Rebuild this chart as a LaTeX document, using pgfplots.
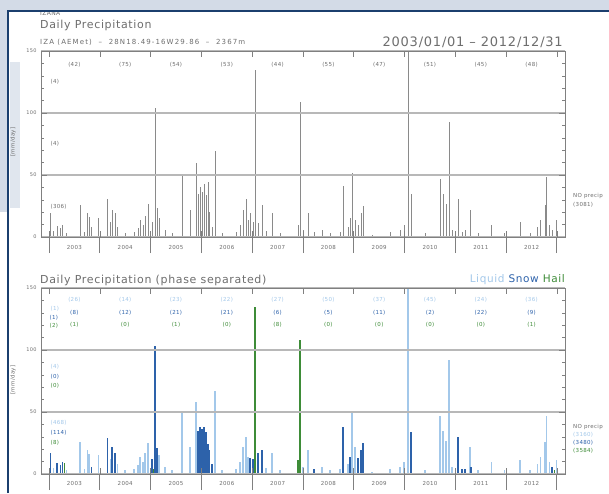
\documentclass[border=0pt]{standalone}
\usepackage{fontspec}
\setmainfont{DejaVu Sans}[LetterSpace=6]
\usepackage{pgfplots}
\pgfplotsset{compat=1.18}

\definecolor{bgblue}{HTML}{D3DBE7}
\definecolor{frameblue}{HTML}{1B3F6E}
\definecolor{textgray}{HTML}{6E6E6E}
\definecolor{axisgray}{HTML}{808080}
\definecolor{gridgray}{HTML}{B8B8B8}
\definecolor{bargray}{HTML}{8A8A8A}
\definecolor{liquid}{HTML}{A3C8EA}
\definecolor{snow}{HTML}{2D62AA}
\definecolor{hail}{HTML}{3E8C38}

\newcommand\tickfont{\fontsize{5}{6}\selectfont}
\newcommand\smallfont{\fontsize{5.5}{6.5}\selectfont}

\pgfplotsset{
  panel/.style={scale only axis, width=524pt, height=186pt,
    xmin=2002.84, xmax=2013.16, ymin=0, ymax=150, anchor=south west},
  % year separators hanging below the x axis
  sepaxis/.style={panel, xtick={2003,...,2013}, xticklabels={}, xtick pos=left,
    tick align=outside, major tick length=16pt, ytick=\empty,
    axis line style={axisgray, line width=0.8pt},
    tick style={axisgray, line width=0.8pt}},
  % frame with inner ticks, grid and y labels
  frameaxis/.style={panel, tick align=inside,
    xtick={2003,...,2013}, xticklabels={}, minor x tick num=1, xtick pos=both,
    ytick={0,50,100,150}, minor y tick num=4, ytick pos=both, yticklabel pos=left,
    major tick length=6pt, minor tick length=3.5pt,
    ymajorgrids, major grid style={gridgray, line width=1.6pt},
    axis line style={axisgray, line width=0.8pt},
    tick style={axisgray, line width=0.6pt},
    yticklabel style={font=\tickfont, text=textgray, xshift=-1pt},
    /pgf/number format/assume math mode=true},
  comb/.style={ycomb, no marks, line width=0.8pt},
}

\begin{document}
\begin{tikzpicture}[x=1pt, y=1pt]
\useasboundingbox (0,0) rectangle (609,-493);
\fill[white] (0,0) rectangle (609,-493);
\fill[bgblue!70!white] (9.5,-62) rectangle (20,-208);

% ---------- headings ----------
\node[anchor=west, inner sep=0, text=textgray, font=\fontsize{6}{7}\selectfont] at (40,-13) {IZANA};
\node[anchor=west, inner sep=0, text=textgray, font=\fontsize{11}{13}\selectfont] at (40,-25) {Daily Precipitation};
\node[anchor=west, inner sep=0, text=textgray, font=\fontsize{7}{8}\selectfont\addfontfeatures{LetterSpace=16}] at (40,-42) {IZA (AEMet) \ -- \ 28N18.49-16W29.86 \ -- \ 2367m};
\node[anchor=east, inner sep=0, text=textgray, font=\fontsize{13}{15}\selectfont] at (563,-42) {2003/01/01 -- 2012/12/31};

% ---------- daily totals ----------
\begin{axis}[sepaxis, at={(41pt,-237pt)}]
\addplot[comb, draw=bargray] coordinates {
(2003.020,19)(2003.079,5)(2003.157,9)(2003.217,7)(2003.256,10)(2003.335,3)
(2003.610,26)(2003.689,4)(2003.748,19)(2003.787,16)(2003.827,8)(2003.965,15)
(2004.142,31)(2004.201,12)(2004.240,22)(2004.299,19)(2004.339,8)(2004.496,3)
(2004.673,4)(2004.752,7)(2004.791,14)(2004.850,10)(2004.890,17)(2004.949,27)
(2005.028,12)(2005.087,104)(2005.126,23)(2005.165,15)(2005.283,6)(2005.421,3)
(2005.618,51)(2005.776,22)(2005.894,60)(2005.933,35)(2005.972,40)(2006.012,36)
(2006.051,43)(2006.091,34)(2006.130,44)(2006.150,20)(2006.209,8)(2006.268,69)
(2006.406,3)(2006.681,4)(2006.760,10)(2006.819,22)(2006.878,31)(2006.917,14)
(2006.957,19)(2007.016,12)(2007.055,135)(2007.114,11)(2007.193,26)(2007.272,5)
(2007.390,19)(2007.547,3)(2007.902,10)(2007.941,109)(2008.000,6)(2008.098,19)
(2008.217,4)(2008.374,6)(2008.531,3)(2008.728,4)(2008.787,41)(2008.886,8)
(2008.925,15)(2008.965,52)(2009.024,14)(2009.083,10)(2009.142,19)(2009.181,25)
(2009.358,2)(2009.713,4)(2009.909,6)(2009.988,10)(2010.067,170)(2010.126,35)
(2010.402,3)(2010.697,47)(2010.756,35)(2010.815,27)(2010.874,93)(2010.933,6)
(2011.051,31)(2011.130,4)(2011.189,6)(2011.287,22)(2011.445,3)(2011.720,10)
(2011.976,3)(2012.272,12)(2012.469,3)(2012.626,8)(2012.685,14)(2012.764,26)
(2012.803,48)(2012.862,10)(2012.902,6)(2012.990,14)
};
\end{axis}
\begin{axis}[frameaxis, at={(41pt,-237pt)}]
\addplot[draw=none] coordinates {(2005,0)};
\end{axis}

% yearly counts and class counts
\foreach \i/\n in {0/42,1/75,2/54,3/53,4/44,5/55,6/47,7/51,8/45,9/48}
  \node[text=textgray, font=\smallfont] at ({74.4+50.8*\i},-65) {(\n)};
\foreach \i in {0,...,9}
  {\pgfmathtruncatemacro\yr{2003+\i}
   \node[text=textgray, font=\smallfont] at ({74.4+50.8*\i},-247) {\yr};}
\node[anchor=west, text=textgray, font=\smallfont] at (47,-82) {(4)};
\node[anchor=west, text=textgray, font=\smallfont] at (47,-144) {(4)};
\node[anchor=west, text=textgray, font=\smallfont] at (47,-207) {(306)};
\node[anchor=west, inner sep=0, text=textgray, font=\smallfont] at (573,-196) {NO precip};
\node[anchor=west, inner sep=0, text=textgray, font=\smallfont] at (573,-205) {(3081)};
\node[rotate=90, text=textgray, font=\smallfont] at (13,-142) {[mm/day]};

% ---------- phase separated ----------
\node[anchor=west, inner sep=0, text=textgray, font=\fontsize{11}{13}\selectfont] at (40,-280) {Daily Precipitation (phase separated)};
\node[anchor=east, inner sep=0, font=\fontsize{10.5}{12}\selectfont] at (565,-280)
  {\textcolor{liquid}{Liquid} \textcolor{snow}{Snow} \textcolor{hail}{Hail}};

\begin{axis}[sepaxis, at={(41pt,-474pt)}]
\addplot[comb, line width=1.2pt, draw=liquid] coordinates {
(2003.079,5)(2003.335,3)(2003.610,26)(2003.689,4)(2003.748,19)(2003.787,16)
(2003.965,15)(2004.201,12)(2004.339,8)(2004.496,3)(2004.673,4)(2004.752,7)
(2004.791,14)(2004.850,10)(2004.890,17)(2004.949,25)(2005.165,15)(2005.283,6)
(2005.421,3)(2005.618,49)(2005.776,22)(2005.894,58)(2006.268,67)(2006.406,3)
(2006.681,4)(2006.760,10)(2006.819,22)(2006.878,30)(2006.917,14)(2007.272,5)
(2007.390,17)(2007.547,3)(2008.000,6)(2008.098,19)(2008.374,6)(2008.531,3)
(2008.728,4)(2008.886,8)(2008.965,50)(2009.024,22)(2009.358,2)(2009.713,4)
(2009.909,6)(2009.988,10)(2010.067,170)(2010.402,3)(2010.697,47)(2010.756,35)
(2010.815,27)(2010.874,92)(2010.933,6)(2011.287,22)(2011.445,3)(2011.720,10)
(2011.976,3)(2012.272,11)(2012.469,3)(2012.626,8)(2012.685,14)(2012.764,26)
(2012.803,47)(2012.862,10)(2012.990,11)
};
\addplot[comb, line width=1.2pt, draw=snow] coordinates {
(2003.020,17)(2003.157,9)(2003.217,7)(2003.256,10)(2003.827,6)(2004.142,29)
(2004.240,22)(2004.299,17)(2005.028,12)(2005.087,103)(2005.126,21)(2005.933,35)
(2005.972,38)(2006.012,36)(2006.051,38)(2006.091,34)(2006.130,24)(2006.150,19)
(2006.209,8)(2006.957,13)(2007.016,12)(2007.114,17)(2007.193,19)(2008.217,4)
(2008.787,38)(2008.925,14)(2009.083,13)(2009.142,19)(2009.181,25)(2010.126,34)
(2011.051,30)(2011.130,4)(2011.189,4)(2011.307,6)(2012.902,6)
};
\addplot[comb, line width=1.2pt, draw=hail] coordinates {
(2003.300,9)(2005.050,4)(2007.055,135)(2007.902,11)(2007.941,108)(2012.950,3)
};
\end{axis}
\begin{axis}[frameaxis, at={(41pt,-474pt)}]
\addplot[draw=none] coordinates {(2005,0)};
\end{axis}

\foreach \i/\a/\b/\c in {0/26/8/1,1/14/12/0,2/23/21/1,3/22/21/0,4/27/6/8,
                         5/50/5/0,6/37/11/0,7/45/2/0,8/24/22/0,9/36/9/1}
  {\node[text=liquid, font=\smallfont] at ({74.4+50.8*\i},-300) {(\a)};
   \node[text=snow,   font=\smallfont] at ({74.4+50.8*\i},-312.5) {(\b)};
   \node[text=hail,   font=\smallfont] at ({74.4+50.8*\i},-325) {(\c)};}
\foreach \i in {0,...,9}
  {\pgfmathtruncatemacro\yr{2003+\i}
   \node[text=textgray, font=\smallfont] at ({74.4+50.8*\i},-483) {\yr};}
\node[anchor=west, text=liquid, font=\smallfont] at (47,-309) {(1)};
\node[anchor=west, text=snow,   font=\smallfont] at (46,-318) {(1)};
\node[anchor=west, text=hail,   font=\smallfont] at (46,-326) {(2)};
\node[anchor=west, text=liquid, font=\smallfont] at (47,-367) {(4)};
\node[anchor=west, text=snow,   font=\smallfont] at (47,-377) {(0)};
\node[anchor=west, text=hail,   font=\smallfont] at (47,-386) {(0)};
\node[anchor=west, text=liquid, font=\smallfont] at (47,-423) {(468)};
\node[anchor=west, text=snow,   font=\smallfont] at (47,-433) {(114)};
\node[anchor=west, text=hail,   font=\smallfont] at (47,-443) {(8)};
\node[anchor=west, inner sep=0, text=textgray, font=\smallfont] at (573,-427) {NO precip};
\node[anchor=west, inner sep=0, text=liquid, font=\smallfont] at (573,-435) {(3160)};
\node[anchor=west, inner sep=0, text=snow,   font=\smallfont] at (573,-443) {(3480)};
\node[anchor=west, inner sep=0, text=hail,   font=\smallfont] at (573,-451) {(3584)};
\node[rotate=90, text=textgray, font=\smallfont] at (13,-380) {[mm/day]};

% ---------- page frame ----------
\fill[bgblue] (0,0) rectangle (609,-10);
\fill[bgblue] (0,0) rectangle (7,-212);
\draw[frameblue, line width=2pt] (8,-493) -- (8,-11) -- (609,-11);
\end{tikzpicture}
\end{document}
